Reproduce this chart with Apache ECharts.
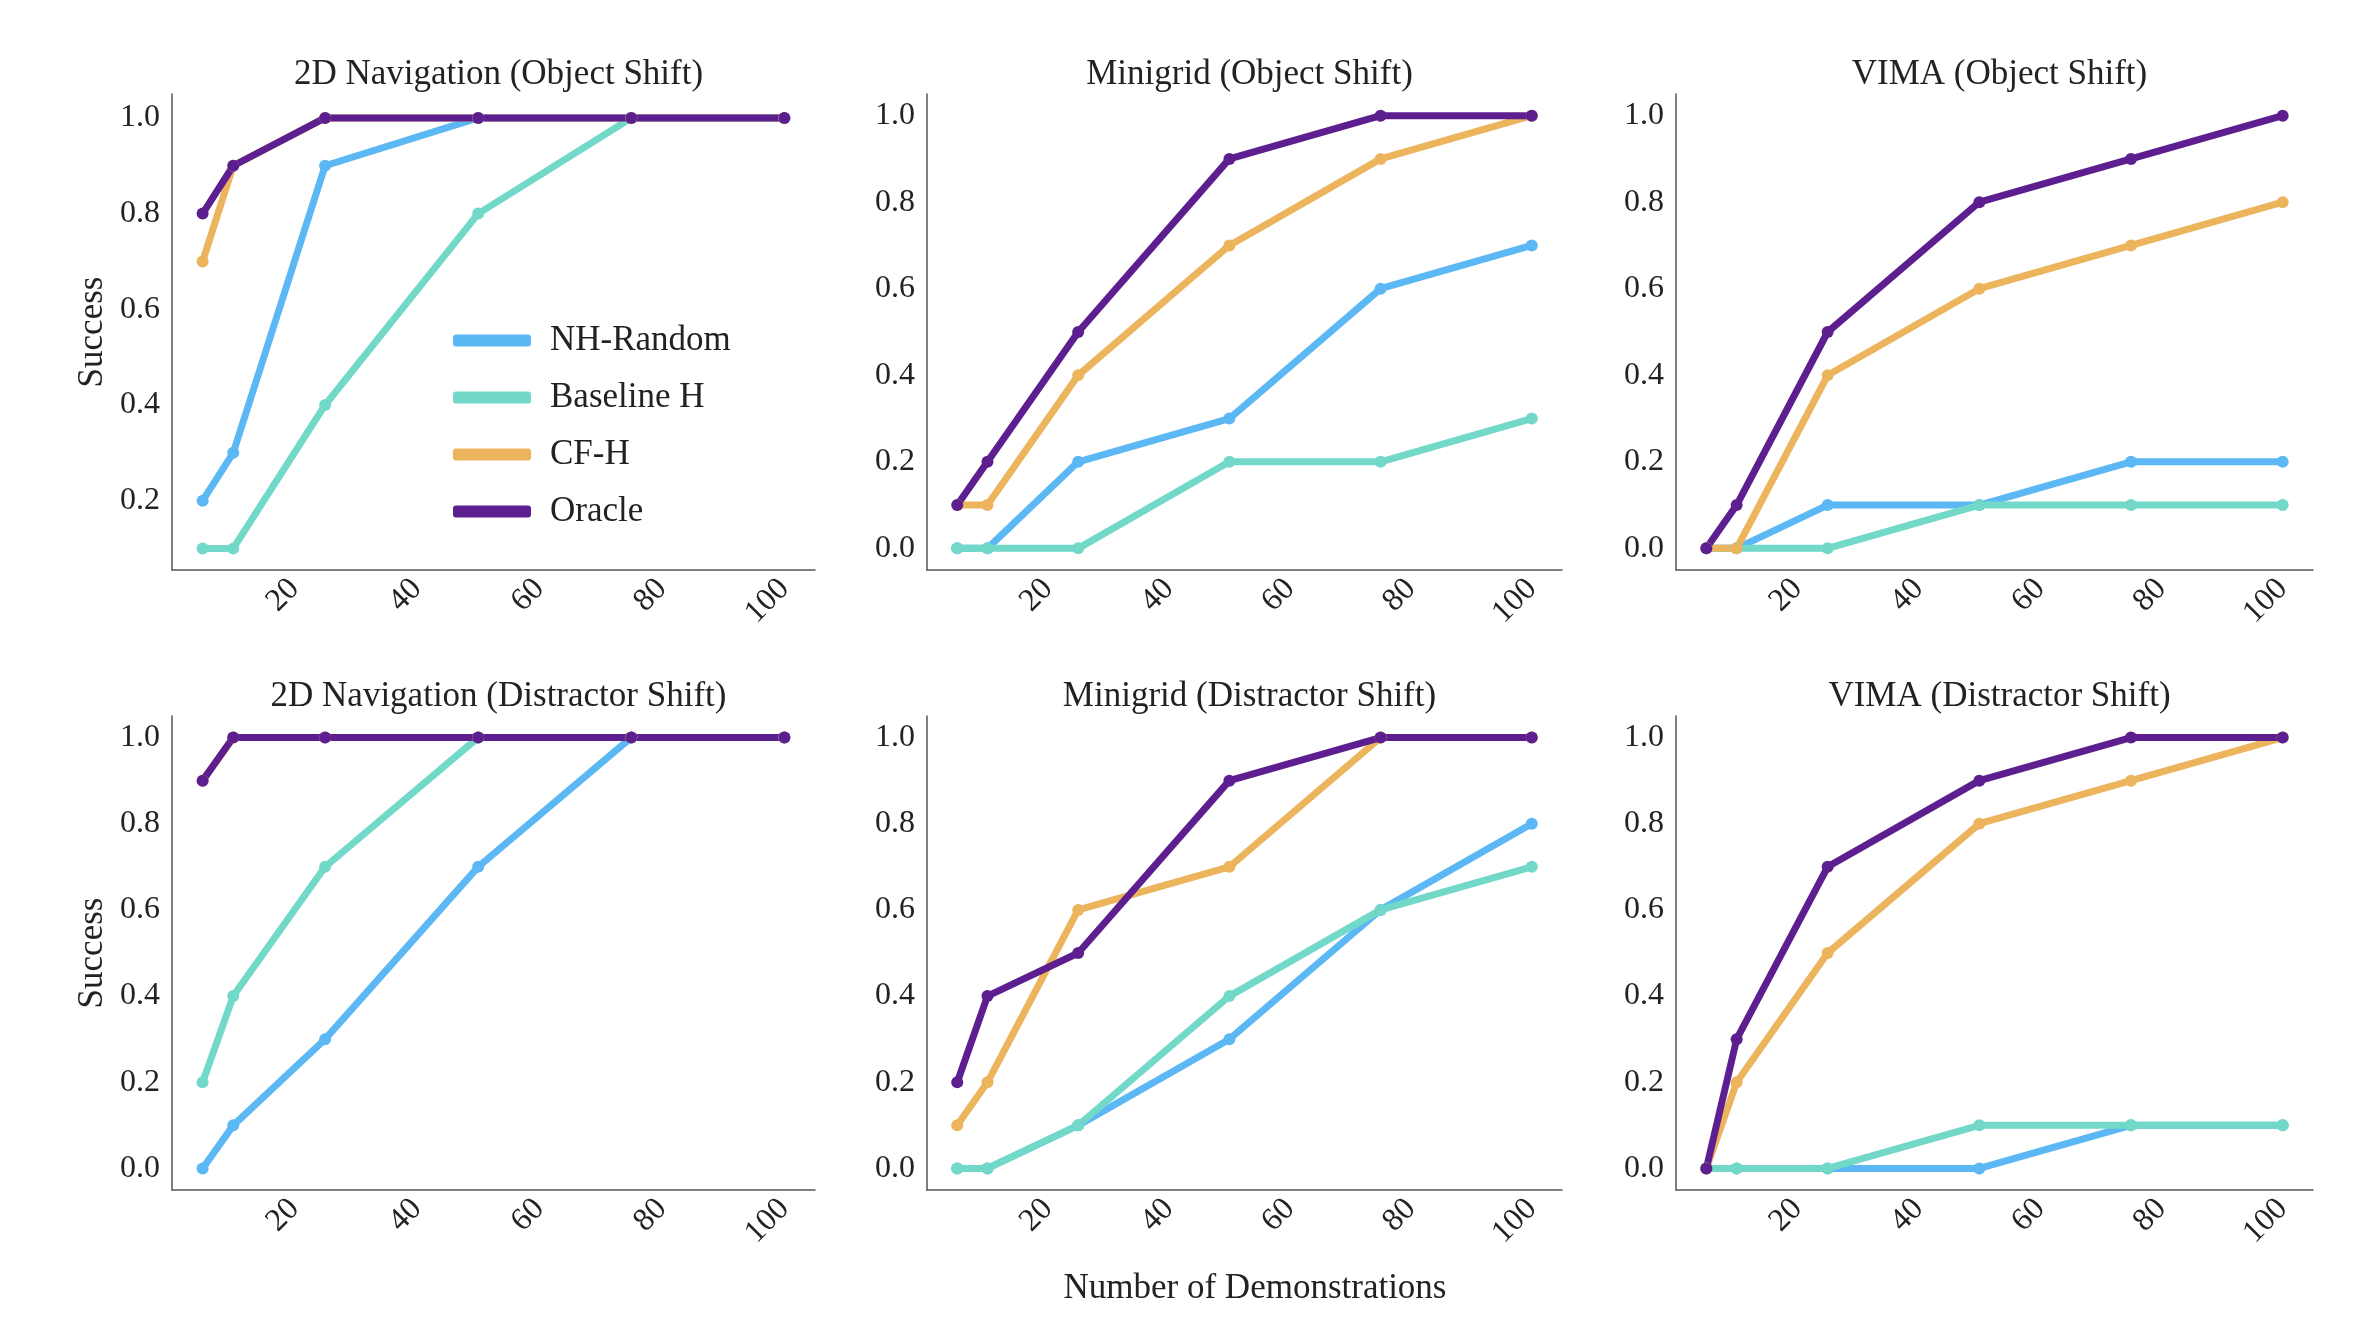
<!DOCTYPE html>
<html>
<head>
<meta charset="utf-8">
<script src="https://cdn.jsdelivr.net/npm/echarts@6.0.0/dist/echarts.min.js"></script>
<style>
  html, body { margin: 0; padding: 0; background: #fff; }
  #chart { width: 2378px; height: 1332px; }
</style>
</head>
<body>
<div id="chart"></div>
<script>
// data
const demos = [5, 10, 25, 50, 75, 100];
const methods = ['NH-Random', 'Baseline H', 'CF-H', 'Oracle'];
const colors = ['#5bb8f4', '#72d9c9', '#ecb45c', '#5d1f8f'];
const titles = [
  '2D Navigation (Object Shift)', 'Minigrid (Object Shift)', 'VIMA (Object Shift)',
  '2D Navigation (Distractor Shift)', 'Minigrid (Distractor Shift)', 'VIMA (Distractor Shift)'
];
const xTicks = [20, 40, 60, 80, 100];
const yTicks = [0, 0.2, 0.4, 0.6, 0.8, 1.0];

const nav2dObj = [
  [0.2, 0.3, 0.9, 1, 1, 1],
  [0.1, 0.1, 0.4, 0.8, 1, 1],
  [0.7, 0.9, 1, 1, 1, 1],
  [0.8, 0.9, 1, 1, 1, 1]
];
const minigridObj = [
  [0, 0, 0.2, 0.3, 0.6, 0.7],
  [0, 0, 0, 0.2, 0.2, 0.3],
  [0.1, 0.1, 0.4, 0.7, 0.9, 1],
  [0.1, 0.2, 0.5, 0.9, 1, 1]
];
const vimaObj = [
  [0, 0, 0.1, 0.1, 0.2, 0.2],
  [0, 0, 0, 0.1, 0.1, 0.1],
  [0, 0, 0.4, 0.6, 0.7, 0.8],
  [0, 0.1, 0.5, 0.8, 0.9, 1]
];
const nav2dDist = [
  [0, 0.1, 0.3, 0.7, 1, 1],
  [0.2, 0.4, 0.7, 1, 1, 1],
  [0.9, 1, 1, 1, 1, 1],
  [0.9, 1, 1, 1, 1, 1]
];
const minigridDist = [
  [0, 0, 0.1, 0.3, 0.6, 0.8],
  [0, 0, 0.1, 0.4, 0.6, 0.7],
  [0.1, 0.2, 0.6, 0.7, 1, 1],
  [0.2, 0.4, 0.5, 0.9, 1, 1]
];
const vimaDist = [
  [0, 0, 0, 0, 0.1, 0.1],
  [0, 0, 0, 0.1, 0.1, 0.1],
  [0, 0.2, 0.5, 0.8, 0.9, 1],
  [0, 0.3, 0.7, 0.9, 1, 1]
];
const panels = [nav2dObj, minigridObj, vimaObj, nav2dDist, minigridDist, vimaDist];

const font = 'Liberation Serif';
const colLeft = [172, 927, 1676];
const colWidth = [643, 635, 637];
const rowTop = [94, 716];
const rowHeight = [476, 474];
const yMins = [0.055, -0.05, -0.05, -0.05, -0.05, -0.05];

const grid = [], xAxis = [], yAxis = [], title = [], series = [];
panels.forEach((p, i) => {
  const c = i % 3, r = Math.floor(i / 3);
  grid.push({ left: colLeft[c], top: rowTop[r], width: colWidth[c], height: rowHeight[r] });
  title.push({
    text: titles[i], left: colLeft[c] + colWidth[c] / 2, top: rowTop[r] - 42, textAlign: 'center',
    textStyle: { fontFamily: font, fontSize: 35, fontWeight: 'normal', color: '#222' }
  });
  xAxis.push({
    type: 'value', gridIndex: i, min: 0, max: 105,
    axisLine: { onZero: false, lineStyle: { color: '#555', width: 1.5 } },
    axisTick: { show: false }, splitLine: { show: false },
    axisLabel: { customValues: xTicks, rotate: 45, fontFamily: font, fontSize: 32, color: '#222', margin: 14 }
  });
  yAxis.push({
    type: 'value', gridIndex: i, min: yMins[i], max: 1.05,
    axisLine: { show: true, onZero: false, lineStyle: { color: '#555', width: 1.5 } },
    axisTick: { show: false }, splitLine: { show: false },
    axisLabel: {
      customValues: yTicks.filter(v => v >= yMins[i]),
      formatter: v => v.toFixed(1), fontFamily: font, fontSize: 32, color: '#222', margin: 12
    },
    name: c === 0 ? 'Success' : '', nameLocation: 'middle', nameGap: 62, nameRotate: 90,
    nameTextStyle: { fontFamily: font, fontSize: 35, color: '#222' }
  });
  p.forEach((vals, m) => {
    series.push({
      name: methods[m], type: 'line', xAxisIndex: i, yAxisIndex: i,
      data: demos.map((d, k) => [d, vals[k]]),
      symbol: 'circle', symbolSize: 12, showSymbol: true,
      lineStyle: { width: 7, color: colors[m] },
      itemStyle: { color: colors[m] }, animation: false
    });
  });
});

title.push({
  text: 'Number of Demonstrations', left: 1250, top: 1266, textAlign: 'center',
  textStyle: { fontFamily: font, fontSize: 35, fontWeight: 'normal', color: '#222' }
});

const chart = echarts.init(document.getElementById('chart'));
chart.setOption({
  backgroundColor: '#fff',
  title, grid, xAxis, yAxis, series,
  legend: {
    data: methods, orient: 'vertical', left: 448, top: 318, itemGap: 22,
    itemWidth: 78, itemHeight: 12, icon: 'roundRect',
    textStyle: { fontFamily: font, fontSize: 35, color: '#222', padding: [0, 0, 0, 14] }
  }
});
</script>
</body>
</html>
